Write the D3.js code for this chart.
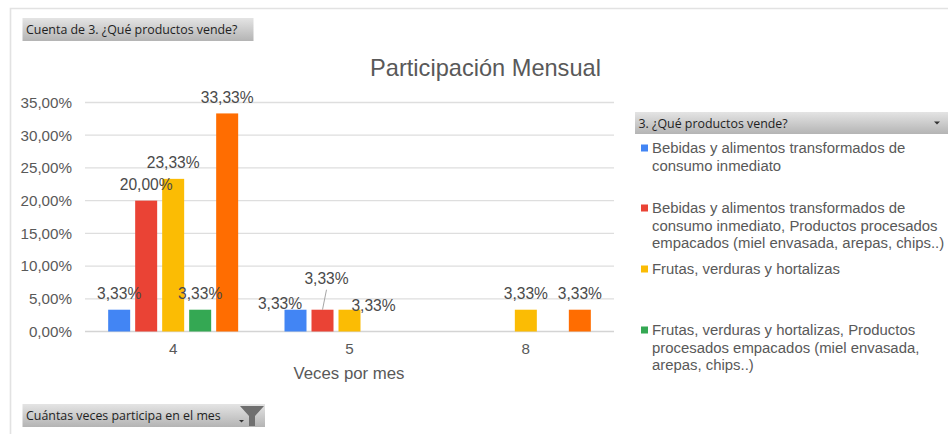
<!DOCTYPE html>
<html><head><meta charset="utf-8">
<script src="https://cdn.jsdelivr.net/npm/d3@7"></script>
<style>html,body{margin:0;padding:0;background:#fff;overflow:hidden}svg{display:block}</style>
</head><body><div id="c"></div>
<script>
const categories = ["4","5","8"];
const seriesKeys = ["a","b","c","d","e"];
const seriesColors = ["#4285f4","#ea4335","#fbbc04","#34a853","#ff6d01"];
const serieA = [3.33,3.33,null];
const serieB = [20,3.33,null];
const serieC = [23.33,3.33,3.33];
const serieD = [3.33,null,null];
const serieE = [33.33,null,3.33];
const seriesValues = [serieA,serieB,serieC,serieD,serieE];
const yTicks = [0,5,10,15,20,25,30,35];
const legendLabels = [
  ["Bebidas y alimentos transformados de","consumo inmediato"],
  ["Bebidas y alimentos transformados de","consumo inmediato, Productos procesados","empacados (miel envasada, arepas, chips..)"],
  ["Frutas, verduras y hortalizas"],
  ["Frutas, verduras y hortalizas, Productos","procesados empacados (miel envasada,","arepas, chips..)"]
];

const W=948,H=434;
const svg=d3.select("#c").append("svg").attr("width",W).attr("height",H);
const fmt=v=>v.toFixed(2).replace(".",",")+"%";
const FONT="'Liberation Sans',Arial,sans-serif", BTN="'Open Sans','Noto Sans',sans-serif";
const TXT="#595959";

const defs=svg.append("defs");
const g=defs.append("linearGradient").attr("id","btn").attr("x1",0).attr("x2",0).attr("y1",0).attr("y2",1);
g.append("stop").attr("offset",0).attr("stop-color","#e4e4e4");
g.append("stop").attr("offset",1).attr("stop-color","#b4b4b4");

// outer frame
svg.append("path").attr("d",`M10.5,${H} V8.5 H${W}`).attr("fill","none").attr("stroke","#e2e2e2").attr("stroke-width",1.6);

const x0=d3.scaleBand().domain(categories).range([85,614]);
const x1=d3.scaleBand().domain(seriesKeys).range([x0.bandwidth()/2-65,x0.bandwidth()/2+65]).paddingInner(5/27).paddingOuter(0);
const y=d3.scaleLinear().domain([0,35]).range([331.5,102.5]);

// grid
svg.append("g").selectAll("line").data(yTicks).join("line")
  .attr("x1",85).attr("x2",614).attr("y1",d=>y(d)).attr("y2",d=>y(d))
  .attr("stroke",d=>d===0?"#d4d4d4":"#dedede").attr("stroke-width",1.3);

// axes
const yAxis=svg.append("g").attr("transform","translate(85,0)")
  .call(d3.axisLeft(y).tickValues(yTicks).tickFormat(fmt).tickSize(0).tickPadding(13));
yAxis.select(".domain").remove();
yAxis.selectAll("text").attr("font-family",FONT).attr("font-size",15.2).attr("fill",TXT);
const xAxis=svg.append("g").attr("transform","translate(0,331.5)")
  .call(d3.axisBottom(x0).tickSize(0).tickPadding(12));
xAxis.select(".domain").remove();
xAxis.selectAll("text").attr("font-family",FONT).attr("font-size",15.2).attr("fill",TXT);

// bars
const rows=[];
seriesValues.forEach((vals,si)=>vals.forEach((v,ci)=>{ if(v!=null) rows.push({si,ci,v}); }));
svg.append("g").selectAll("rect").data(rows).join("rect")
  .attr("x",d=>x0(categories[d.ci])+x1(seriesKeys[d.si]))
  .attr("width",x1.bandwidth())
  .attr("y",d=>y(d.v)).attr("height",d=>y(0)-y(d.v))
  .attr("fill",d=>seriesColors[d.si]);

// data labels: hand-moved ones, as in the source
const moved={ "0-1":[-15.5,10], "1-1":[4,-15], "2-1":[24,12] };
const lab=d=>moved[d.si+"-"+d.ci]||[0,0];
const cx=d=>x0(categories[d.ci])+x1(seriesKeys[d.si])+x1.bandwidth()/2;
svg.append("g").selectAll("text").data(rows).join("text")
  .attr("x",d=>cx(d)+lab(d)[0]).attr("y",d=>y(d.v)-10.5+lab(d)[1])
  .attr("text-anchor","middle").attr("font-family",FONT).attr("font-size",15.6).attr("fill","#4a4a4a")
  .text(d=>fmt(d.v));
// leader line
const lead=rows.find(d=>d.si===1&&d.ci===1);
svg.append("line").attr("x1",cx(lead)+4).attr("y1",y(lead.v)-20).attr("x2",cx(lead)).attr("y2",y(lead.v))
  .attr("stroke","#a6a6a6").attr("stroke-width",1);

// titles
svg.append("text").attr("x",485.5).attr("y",75.5).attr("text-anchor","middle").attr("font-family",FONT).attr("font-size",23.6).attr("fill",TXT).text("Participación Mensual");
svg.append("text").attr("x",349).attr("y",379).attr("text-anchor","middle").attr("font-family",FONT).attr("font-size",16.8).attr("fill",TXT).text("Veces por mes");

// field buttons
function button(x,yy,w,h,t){
  svg.append("rect").attr("x",x).attr("y",yy).attr("width",w).attr("height",h).attr("fill","url(#btn)");
  svg.append("text").attr("x",x+3.5).attr("y",yy+h/2+4.5).attr("font-family",BTN).attr("font-size",12.4).attr("fill","#1f1f1f").text(t);
}
button(22.5,18,231,23,"Cuenta de 3. ¿Qué productos vende?");
button(22.5,404,242.5,23,"Cuántas veces participa en el mes");
button(635,112,313,22,"3. ¿Qué productos vende?");
svg.append("path").attr("d","M934,121.5h6l-3,3z").attr("fill","#333");
svg.append("path").attr("d","M239,420h5l-2.5,2.5z").attr("fill","#333");
svg.append("path").attr("d","M240,406h24l-9,10v10h-6v-10z").attr("fill","#6f6f6f");

// legend
const legendY=[148,208,269,330];
const leg=svg.append("g").selectAll("g").data(legendLabels).join("g");
leg.append("rect").attr("x",641).attr("width",7).attr("height",7)
  .attr("y",(d,i)=>legendY[i]-3.5).attr("fill",(d,i)=>seriesColors[i]);
leg.each(function(lines,i){
  d3.select(this).selectAll("text").data(lines).join("text")
    .attr("x",652).attr("y",(t,j)=>legendY[i]+5+j*17.5)
    .attr("font-family",FONT).attr("font-size",14.9).attr("fill",TXT).text(t=>t);
});
</script></body></html>
